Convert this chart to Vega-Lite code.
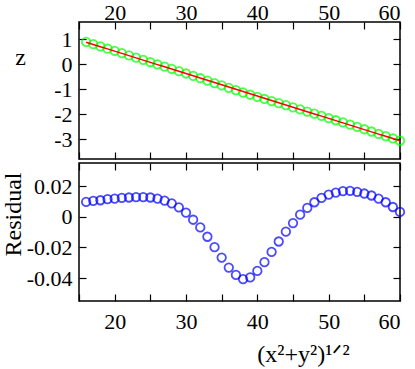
{
  "$schema": "https://vega.github.io/schema/vega-lite/v6.json",
  "padding": {"left": 0, "top": 0, "right": 2, "bottom": 0},
  "spacing": 0,
  "config": {
    "view": {"stroke": "black", "strokeWidth": 1.5},
    "axis": {
      "domain": false, "grid": false,
      "labelFont": "Liberation Serif", "labelFontSize": 22, "labelColor": "black",
      "titleFont": "Liberation Serif", "titleFontSize": 24, "titleFontWeight": "normal", "titleColor": "black",
      "tickColor": "black", "tickWidth": 1.2, "tickSize": -7
    },
    "style": {"guide-label": {"font": "Liberation Serif", "fontSize": 22, "fill": "black"}}
  },
  "data": {"values": [
    {"x": 16, "z": 0.900, "fit": 0.89, "res": 0.0096},
    {"x": 17, "z": 0.810, "fit": 0.80, "res": 0.0103},
    {"x": 18, "z": 0.721, "fit": 0.71, "res": 0.0107},
    {"x": 19, "z": 0.631, "fit": 0.62, "res": 0.0114},
    {"x": 20, "z": 0.542, "fit": 0.53, "res": 0.0118},
    {"x": 21, "z": 0.452, "fit": 0.44, "res": 0.0122},
    {"x": 22, "z": 0.363, "fit": 0.35, "res": 0.0125},
    {"x": 23, "z": 0.273, "fit": 0.26, "res": 0.0127},
    {"x": 24, "z": 0.183, "fit": 0.17, "res": 0.0127},
    {"x": 25, "z": 0.093, "fit": 0.08, "res": 0.0125},
    {"x": 26, "z": 0.002, "fit": -0.01, "res": 0.0118},
    {"x": 27, "z": -0.090, "fit": -0.10, "res": 0.0105},
    {"x": 28, "z": -0.181, "fit": -0.19, "res": 0.0087},
    {"x": 29, "z": -0.274, "fit": -0.28, "res": 0.0061},
    {"x": 30, "z": -0.367, "fit": -0.37, "res": 0.0026},
    {"x": 31, "z": -0.462, "fit": -0.46, "res": -0.0020},
    {"x": 32, "z": -0.557, "fit": -0.55, "res": -0.0070},
    {"x": 33, "z": -0.653, "fit": -0.64, "res": -0.0131},
    {"x": 34, "z": -0.750, "fit": -0.73, "res": -0.0199},
    {"x": 35, "z": -0.847, "fit": -0.82, "res": -0.0267},
    {"x": 36, "z": -0.943, "fit": -0.91, "res": -0.0332},
    {"x": 37, "z": -1.038, "fit": -1.00, "res": -0.0380},
    {"x": 38, "z": -1.131, "fit": -1.09, "res": -0.0407},
    {"x": 39, "z": -1.220, "fit": -1.18, "res": -0.0396},
    {"x": 40, "z": -1.305, "fit": -1.27, "res": -0.0354},
    {"x": 41, "z": -1.390, "fit": -1.36, "res": -0.0297},
    {"x": 42, "z": -1.473, "fit": -1.45, "res": -0.0230},
    {"x": 43, "z": -1.556, "fit": -1.54, "res": -0.0162},
    {"x": 44, "z": -1.640, "fit": -1.63, "res": -0.0098},
    {"x": 45, "z": -1.724, "fit": -1.72, "res": -0.0042},
    {"x": 46, "z": -1.809, "fit": -1.81, "res": 0.0013},
    {"x": 47, "z": -1.894, "fit": -1.90, "res": 0.0057},
    {"x": 48, "z": -1.981, "fit": -1.99, "res": 0.0094},
    {"x": 49, "z": -2.068, "fit": -2.08, "res": 0.0122},
    {"x": 50, "z": -2.156, "fit": -2.17, "res": 0.0144},
    {"x": 51, "z": -2.244, "fit": -2.26, "res": 0.0157},
    {"x": 52, "z": -2.333, "fit": -2.35, "res": 0.0166},
    {"x": 53, "z": -2.423, "fit": -2.44, "res": 0.0168},
    {"x": 54, "z": -2.514, "fit": -2.53, "res": 0.0162},
    {"x": 55, "z": -2.605, "fit": -2.62, "res": 0.0151},
    {"x": 56, "z": -2.696, "fit": -2.71, "res": 0.0138},
    {"x": 57, "z": -2.788, "fit": -2.80, "res": 0.0118},
    {"x": 58, "z": -2.881, "fit": -2.89, "res": 0.0094},
    {"x": 59, "z": -2.974, "fit": -2.98, "res": 0.0063},
    {"x": 60, "z": -3.067, "fit": -3.07, "res": 0.0031}
  ]},
  "vconcat": [
    {
      "width": 321, "height": 137,
      "layer": [
        {
          "mark": {"type": "point", "shape": "circle", "filled": false, "color": "#00ff00", "size": 72, "strokeWidth": 1.8},
          "encoding": {
            "x": {"field": "x", "type": "quantitative",
              "scale": {"domain": [15, 60], "nice": false, "zero": false},
              "axis": {"orient": "top", "title": null, "values": [15, 20, 25, 30, 35, 40, 45, 50, 55, 60],
                "labelExpr": "datum.value % 10 === 0 ? datum.label : ''", "labelPadding": 5,
                "labelFont": "Liberation Serif", "labelFontSize": 22,
                "encode": {"ticks": {"update": {"y2": {"signal": "datum.value % 10 === 0 ? 7 : 4"}}}}}},
            "y": {"field": "z", "type": "quantitative",
              "scale": {"domain": [-3.8, 1.7], "nice": false, "zero": false},
              "axis": {"orient": "left", "values": [1, 0, -1, -2, -3], "labelExpr": "toString(datum.value)",
                "labelPadding": 14, "labelFont": "Liberation Serif", "labelFontSize": 22,
                "title": "z", "titleAngle": 0, "titleAlign": "center", "titleBaseline": "middle", "titleX": -59, "titleY": 35}}
          }
        },
        {
          "mark": {"type": "line", "color": "#ff0000", "strokeWidth": 1.5},
          "encoding": {
            "x": {"field": "x", "type": "quantitative",
              "axis": {"orient": "bottom", "title": null, "labels": false, "values": [15, 20, 25, 30, 35, 40, 45, 50, 55, 60],
                "encode": {"ticks": {"update": {"y2": {"signal": "datum.value % 10 === 0 ? -7 : -4"}}}}}},
            "y": {"field": "fit", "type": "quantitative",
              "axis": {"orient": "right", "title": null, "labels": false, "values": [1, 0, -1, -2, -3]}}
          }
        }
      ],
      "resolve": {"axis": {"x": "independent", "y": "independent"}}
    },
    {
      "width": 321, "height": 138,
      "layer": [
        {
          "mark": {"type": "point", "shape": "circle", "filled": false, "color": "#0000ff", "size": 72, "strokeWidth": 1.8},
          "encoding": {
            "x": {"field": "x", "type": "quantitative",
              "scale": {"domain": [15, 60], "nice": false, "zero": false},
              "axis": {"orient": "bottom", "values": [15, 20, 25, 30, 35, 40, 45, 50, 55, 60],
                "labelExpr": "datum.value % 10 === 0 ? datum.label : ''", "labelPadding": 17,
                "labelFont": "Liberation Serif", "labelFontSize": 22,
                "encode": {"ticks": {"update": {"y2": {"signal": "datum.value % 10 === 0 ? -7 : -4"}}}},
                "title": "(x²+y²)¹ᐟ²", "titleAlign": "center", "titleBaseline": "middle", "titleX": 224, "titleY": 53}},
            "y": {"field": "res", "type": "quantitative",
              "scale": {"domain": [-0.055, 0.035], "nice": false, "zero": false},
              "axis": {"orient": "left", "values": [0.02, 0, -0.02, -0.04], "labelExpr": "toString(datum.value)",
                "labelPadding": 14, "labelFont": "Liberation Serif", "labelFontSize": 22,
                "title": "Residual", "titleAngle": -90, "titleAlign": "center", "titleBaseline": "middle", "titleX": -66, "titleY": 51}}
          }
        },
        {
          "mark": {"type": "point", "opacity": 0},
          "encoding": {
            "x": {"field": "x", "type": "quantitative",
              "axis": {"orient": "top", "title": null, "labels": false, "values": [15, 20, 25, 30, 35, 40, 45, 50, 55, 60],
                "encode": {"ticks": {"update": {"y2": {"signal": "datum.value % 10 === 0 ? 7 : 4"}}}}}},
            "y": {"field": "res", "type": "quantitative",
              "axis": {"orient": "right", "title": null, "labels": false, "values": [0.02, 0, -0.02, -0.04]}}
          }
        }
      ],
      "resolve": {"axis": {"x": "independent", "y": "independent"}}
    }
  ]
}
